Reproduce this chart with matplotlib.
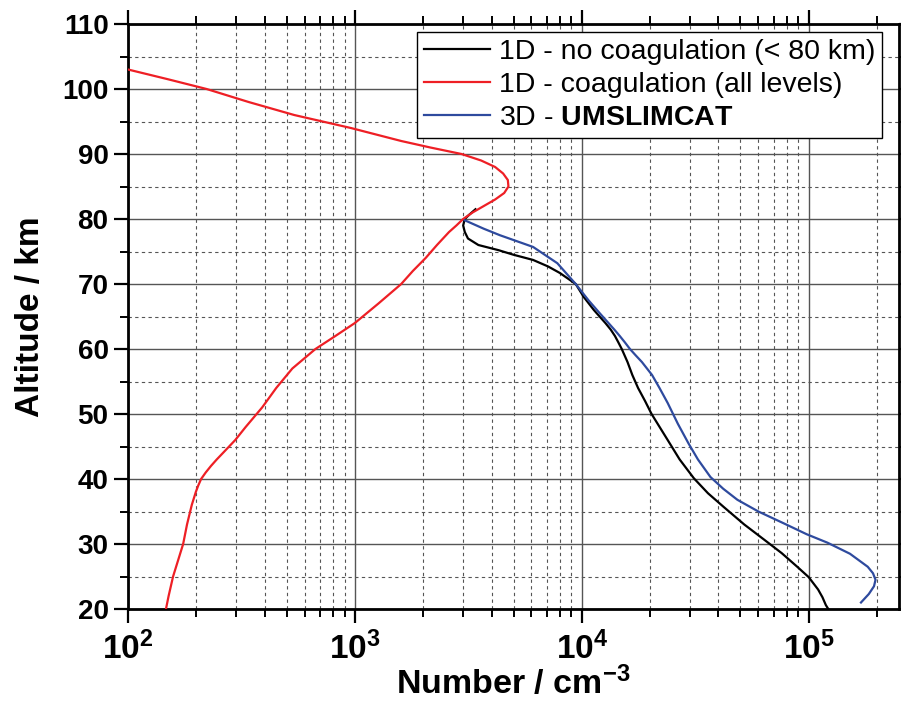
import matplotlib
matplotlib.use('Agg')
import matplotlib.pyplot as plt
from matplotlib.ticker import FixedLocator, NullFormatter


# data (number in cm^-3, altitude in km)
red_alt = [103.0, 101.5, 100, 98, 96, 94, 92, 91, 90, 89, 88, 87, 86, 85, 84, 83, 82, 81, 80,
           79, 78, 76, 74, 72, 70, 67, 64, 62, 60, 57, 54, 51, 48, 46, 44, 43, 42, 41, 40, 39,
           38, 36, 33, 30, 28, 25, 22, 20]
red_num = [100, 150, 222, 340, 540, 960, 1600, 2150, 2950, 3600, 4150, 4500, 4720, 4750, 4550,
           4150, 3700, 3300, 3000, 2800, 2600, 2300, 2050, 1800, 1600, 1270, 1000, 820, 670, 530,
           450, 390, 330, 297, 262, 246, 232, 220, 210, 204, 199, 191, 182, 175, 168, 158, 151, 147]

black_alt = [81.5, 80.7, 80, 79, 78, 77, 76, 75.2, 74.5, 73.7, 72.7, 71.7, 70, 68, 66, 64, 63,
             62, 61, 60, 58, 56, 54, 52, 50, 46, 43, 40.1, 37.8, 35.7, 33, 30.6, 28.6, 26.5, 24.9,
             23, 21.8, 20.6, 20]
black_num = [3400, 3200, 3050, 3000, 3050, 3150, 3500, 4300, 5000, 6100, 7100, 8000, 9400, 10200,
             11300, 12700, 13400, 14000, 14500, 15000, 15900, 16700, 17700, 19000, 20300, 23900,
             27000, 31200, 36000, 42200, 52000, 64000, 76000, 89000, 100000, 110000, 115000,
             119000, 122000]

blue_alt = [79.8, 78.5, 77.5, 75.7, 73.2, 70, 67.5, 65.5, 63, 62, 61, 60, 59, 58, 56, 54, 51.7,
            48.5, 45.5, 43, 40.3, 38.5, 36.8, 35, 33.2, 31.5, 30.2, 28.5, 26.5, 25.5, 24.5, 23.5,
            22.3, 21]
blue_num = [3050, 3700, 4360, 6100, 7800, 9400, 10700, 12000, 13900, 14700, 15500, 16300, 17300,
            18400, 20400, 22000, 23900, 26500, 29500, 32500, 36900, 42000, 48500, 60000, 77400,
            98000, 121000, 152000, 182000, 192000, 197000, 194000, 184000, 170000]

labels = ['1D - no coagulation (< 80 km)', '1D - coagulation (all levels)',
          '3D - $\\mathbf{UMSLIMCAT}$']
x_decades = [2, 3, 4, 5]
y_ticks = [20, 30, 40, 50, 60, 70, 80, 90, 100, 110]

plt.rcParams['font.family'] = ['Liberation Sans', 'DejaVu Sans']
plt.rcParams['mathtext.fontset'] = 'custom'
plt.rcParams['mathtext.rm'] = 'Liberation Sans:bold'
plt.rcParams['mathtext.bf'] = 'Liberation Sans:bold'
plt.rcParams['mathtext.it'] = 'Liberation Sans:bold'

fig = plt.figure(figsize=(9.01, 7.06), dpi=100)
ax = fig.add_axes([128 / 901, 1 - 609 / 706, (899 - 128) / 901, (609 - 24) / 706])

ax.plot(black_num, black_alt, color='black', lw=1.6, label=labels[0], zorder=3)
ax.plot(red_num, red_alt, color='#ee1f25', lw=1.6, label=labels[1], zorder=4)
ax.plot(blue_num, blue_alt, color='#2e4a9e', lw=1.6, label=labels[2], zorder=5)

ax.set_xscale('log')
ax.set_xlim(100, 2.5e5)
ax.set_ylim(20, 110)

ax.xaxis.set_major_locator(FixedLocator([10.0 ** e for e in x_decades]))
minors = [m * 10.0 ** e for e in x_decades for m in range(2, 10)]
ax.xaxis.set_minor_locator(FixedLocator(minors))
ax.xaxis.set_minor_formatter(NullFormatter())
ax.set_xticklabels(['$\\mathbf{10^{%d}}$' % e for e in x_decades], fontsize=24)

ax.set_yticks(y_ticks)
ax.set_yticks([y + 5 for y in y_ticks[:-1]], minor=True)
ax.set_yticklabels([str(y) for y in y_ticks], fontsize=20, fontweight='bold')

ax.grid(which='major', color='#555555', lw=1.0, ls='-')
ax.grid(which='minor', color='#555555', lw=0.8, ls=(0, (3, 3)))
ax.set_axisbelow(True)

for s in ax.spines.values():
    s.set_linewidth(2)
ax.tick_params(which='major', direction='out', length=10, width=1.6, pad=4,
               top=True, right=True)
ax.tick_params(axis='x', which='major', pad=6)
ax.tick_params(which='minor', direction='out', length=6, width=1.4,
               top=True, right=True)

ax.set_xlabel('Number / cm$^{-3}$', fontsize=24.5, fontweight='bold', labelpad=0)
ax.set_ylabel('Altitude / km', fontsize=24, fontweight='bold', labelpad=12)

leg = ax.legend(loc='upper right', bbox_to_anchor=((882 - 128) / 771, (609 - 32) / 585),
                borderaxespad=0, fontsize=20.5, handlelength=2.3, labelspacing=0.25,
                borderpad=0.25, handletextpad=0.3, fancybox=False, framealpha=1)
leg.get_frame().set_edgecolor('black')
leg.get_frame().set_linewidth(1.0)

fig.savefig('out.png', dpi=100)
